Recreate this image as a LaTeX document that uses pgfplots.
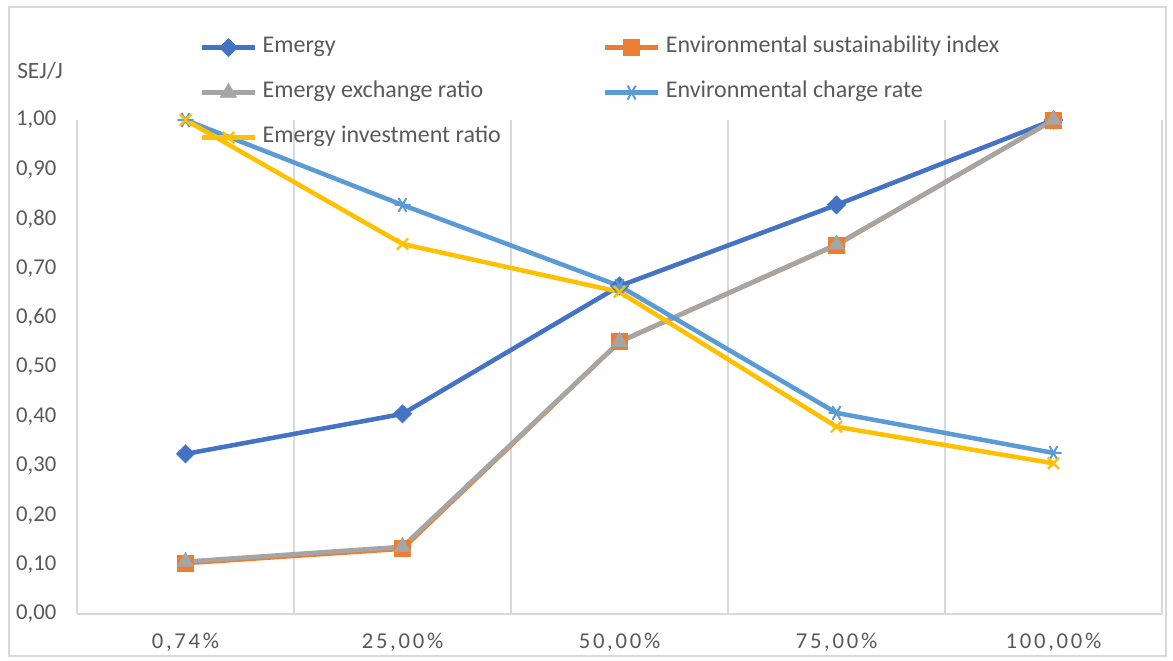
\documentclass[border=0pt]{standalone}
\usepackage{pgfplots}
\pgfplotsset{compat=1.18}
\usepackage{fontspec}
\setmainfont{Carlito}
\definecolor{cE}{HTML}{4472C4}
\definecolor{cESI}{HTML}{ED7D31}
\definecolor{cEER}{HTML}{A5A5A5}
\definecolor{cECR}{HTML}{5B9BD5}
\definecolor{cEIR}{HTML}{FFC000}
\definecolor{txt}{HTML}{595959}
\definecolor{gridc}{HTML}{D9D9D9}
\begin{document}
\begin{tikzpicture}
\path[use as bounding box] (0pt,0pt) rectangle (879.75pt,495pt);
\draw[gridc, line width=0.8pt] (6.75pt,3pt) rectangle (874.5pt,489.75pt);
\node[anchor=west, text=txt, font=\fontsize{17.5}{20}\selectfont, inner sep=0pt] at (12.75pt,442pt) {SEJ/J};
\begin{axis}[
  at={(57.75pt,34.5pt)}, anchor=south west,
  scale only axis, width=813.75pt, height=370.5pt,
  xmin=-0.5, xmax=4.5, ymin=0, ymax=1,
  xtick={0,1,2,3,4},
  xticklabels={{0,74\%},{25,00\%},{50,00\%},{75,00\%},{100,00\%}},
  minor xtick={-0.5,0.5,1.5,2.5,3.5,4.5},
  xminorgrids=true,
  minor grid style={gridc, line width=1.1pt},
  ytick={0,0.1,...,1.01},
  major tick length=0pt, minor tick length=0pt,
  axis x line*=bottom, axis y line*=left,
  x axis line style={gridc, line width=1.1pt, -},
  y axis line style={draw=none},
  /pgf/number format/fixed, /pgf/number format/fixed zerofill,
  /pgf/number format/precision=2, /pgf/number format/use comma,
  /pgf/number format/assume math mode=true,
  ticklabel style={text=txt, font=\fontsize{17}{20}\selectfont},
  xticklabel style={font=\fontsize{17}{20}\selectfont\addfontfeatures{LetterSpace=12}, yshift=-11pt},
  yticklabel style={xshift=-12pt},
  clip=false,
  legend columns=2,
  legend style={at={(0.109,1.174)}, anchor=north west, draw=none, fill=none,
    font=\fontsize{18}{21}\selectfont, text=txt,
    nodes={inner sep=0pt, text height=12pt, text depth=4pt},
    row sep=17.75pt, column sep=4pt},
  legend cell align=left,
  legend image code/.code={\draw[mark repeat=2, mark phase=2] plot coordinates {(0pt,0pt) (20pt,0pt) (40pt,0pt)};},
  every axis plot/.append style={line width=3.4pt},
]
\addplot[cE, mark=square*, mark size=4.8pt, mark options={rotate=45, line width=0.5pt}] coordinates {(0,0.324) (1,0.405) (2,0.664) (3,0.828) (4,1.00)};
\addlegendentry{\makebox[251pt][l]{Emergy}}
\addplot[cESI, mark=square*, mark size=6pt, mark options={line width=0.5pt}] coordinates {(0,0.103) (1,0.132) (2,0.551) (3,0.747) (4,1.00)};
\addlegendentry{Environmental sustainability index}
\addplot[cEER, mark=triangle*, mark size=7pt, mark options={line width=0.5pt}] coordinates {(0,0.106) (1,0.136) (2,0.551) (3,0.748) (4,1.00)};
\addlegendentry{\makebox[251pt][l]{Emergy exchange ratio}}
\addplot[cECR, mark=asterisk, mark size=6pt, mark options={rotate=90, line width=1.5pt}] coordinates {(0,1.00) (1,0.828) (2,0.664) (3,0.407) (4,0.326)};
\addlegendentry{Environmental charge rate}
\addplot[cEIR, mark=x, mark size=6pt, mark options={line width=1.8pt}] coordinates {(0,1.00) (1,0.749) (2,0.652) (3,0.379) (4,0.305)};
\addlegendentry{\makebox[251pt][l]{Emergy investment ratio}}
\end{axis}
\end{tikzpicture}
\end{document}
